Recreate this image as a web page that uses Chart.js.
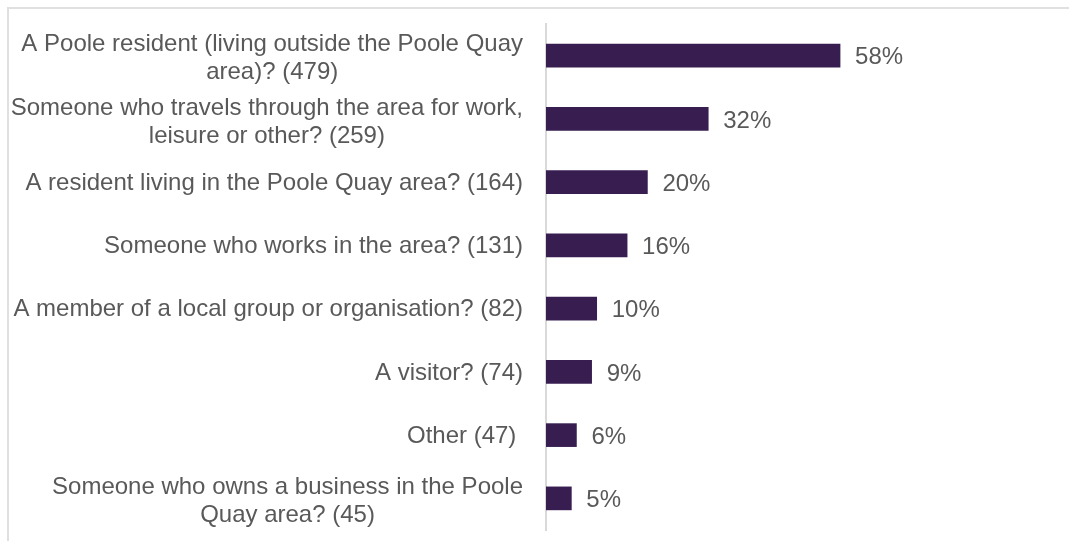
<!DOCTYPE html>
<html>
<head>
<meta charset="utf-8">
<script src="https://cdn.jsdelivr.net/npm/chart.js@4.4.0/dist/chart.umd.min.js"></script>
<style>
  html, body { margin: 0; padding: 0; background: #fff; overflow: hidden; }
  #frame { position: absolute; left: 7px; top: 7px; width: 2000px; height: 2000px;
           border-top: 2px solid #e0e0e0; border-left: 2px solid #e0e0e0; }
  #wrap { position: absolute; left: 0; top: 0; width: 1069px; height: 541px; }
</style>
</head>
<body>
<div id="frame"></div>
<div id="wrap"><canvas id="chart"></canvas></div>
<script>
// categories, one array of lines per bar
var categories = [
  ["A Poole resident (living outside the Poole Quay", "area)? (479)"],
  ["Someone who travels through the area for work,", "leisure or other? (259)"],
  ["A resident living in the Poole Quay area? (164)"],
  ["Someone who works in the area? (131)"],
  ["A member of a local group or organisation? (82)"],
  ["A visitor? (74)"],
  ["Other (47) "],
  ["Someone who owns a business in the Poole", "Quay area? (45)"]
];
var percentages = [58, 32, 20, 16, 10, 9, 6, 5];
var axisMin = 0;
var axisMax = 100;

var font = '24px "Liberation Sans", Arial, sans-serif';
var textColor = '#595959';

// category labels (centred per block, right edge near axis) and value labels
var labelPlugin = {
  id: 'labels',
  afterDatasetsDraw: function (chart) {
    var ctx = chart.ctx;
    var yScale = chart.scales.y;
    var meta = chart.getDatasetMeta(0);
    ctx.save();
    ctx.font = font;
    ctx.fillStyle = textColor;
    ctx.textBaseline = 'middle';
    ctx.textAlign = 'center';
    categories.forEach(function (lines, i) {
      var y = yScale.getPixelForValue(i);
      var w = Math.max.apply(null, lines.map(function (l) { return ctx.measureText(l).width; }));
      var cx = yScale.right - 23 - w / 2;
      var off = lines.length > 1 ? 3 : 1;
      lines.forEach(function (line, j) {
        ctx.fillText(line, cx, y + off + (j - (lines.length - 1) / 2) * 28);
      });
    });
    ctx.textAlign = 'left';
    meta.data.forEach(function (bar, i) {
      ctx.fillText(percentages[i] + '%', bar.x + 15, bar.y + 2);
    });
    ctx.restore();
  }
};

var ctx = document.getElementById('chart');
var chart = new Chart(ctx, {
  type: 'bar',
  data: {
    labels: categories.map(function (c) { return c.join(' '); }),
    datasets: [{
      data: percentages,
      backgroundColor: '#381e50',
      borderWidth: 0,
      barThickness: 23
    }]
  },
  options: {
    indexAxis: 'y',
    responsive: true,
    maintainAspectRatio: false,
    animation: false,
    layout: { padding: { top: 24, bottom: 11, right: 16, left: 0 } },
    plugins: { legend: { display: false }, tooltip: { enabled: false } },
    scales: {
      x: { display: false, min: axisMin, max: axisMax },
      y: {
        ticks: { display: false },
        grid: { display: false },
        border: { display: true, color: '#d9d9d9', width: 2 },
        afterFit: function (scale) { scale.width = 546; }
      }
    }
  },
  plugins: [labelPlugin]
});
</script>
</body>
</html>
